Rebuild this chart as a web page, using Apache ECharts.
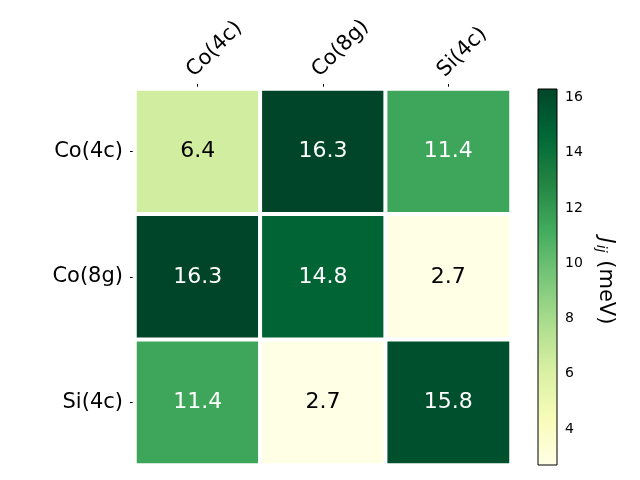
<!DOCTYPE html>
<html>
<head>
<meta charset="utf-8">
<script src="https://cdn.jsdelivr.net/npm/echarts@6/dist/echarts.min.js"></script>
<style>html,body{margin:0;padding:0;background:#fff;}#c{width:640px;height:480px;}</style>
</head>
<body>
<div id="c"></div>
<script>
var sites = ['Co(4c)', 'Co(8g)', 'Si(4c)'];
var jValues = [
  [6.4, 16.3, 11.4],
  [16.3, 14.8, 2.7],
  [11.4, 2.7, 15.8]
];
var cbTicks = [4, 6, 8, 10, 12, 14, 16];
var vMin = 2.7, vMax = 16.3;
var ylgn = ['#ffffe5', '#f7fcb9', '#d9f0a3', '#addd8e', '#78c679', '#41ab5d', '#238443', '#006837', '#004529'];

var FONT = 'DejaVu Sans';
var cells = [];
for (var r = 0; r < sites.length; r++) {
  for (var c = 0; c < sites.length; c++) {
    var v = jValues[r][c];
    cells.push({
      value: [c, r, v],
      label: { color: v > 9.5 ? '#ffffff' : '#000000' }
    });
  }
}

var chart = echarts.init(document.getElementById('c'), null, { renderer: 'canvas' });
chart.setOption({
  animation: false,
  backgroundColor: '#ffffff',
  textStyle: { fontFamily: FONT },
  grid: [
    { left: 135, top: 89, width: 376, height: 376 },
    { left: 538, top: 89, width: 19, height: 376 }
  ],
  xAxis: [
    {
      type: 'category', data: sites, position: 'top', gridIndex: 0,
      axisLine: { show: false },
      axisTick: { show: true, alignWithLabel: true, length: 5, lineStyle: { color: '#000' } },
      axisLabel: { rotate: -45, fontSize: 21, color: '#000', fontFamily: FONT, margin: 8, verticalAlign: 'bottom' },
      splitLine: { show: false }
    },
    {
      type: 'value', gridIndex: 1, min: 0, max: 1, show: false
    }
  ],
  yAxis: [
    {
      type: 'category', data: sites, inverse: true, gridIndex: 0,
      axisLine: { show: false },
      axisTick: { show: true, alignWithLabel: true, length: 5, lineStyle: { color: '#000' } },
      axisLabel: { fontSize: 21, color: '#000', fontFamily: FONT, margin: 12 },
      splitLine: { show: false }
    },
    {
      type: 'value', gridIndex: 1, position: 'right', min: vMin, max: vMax,
      axisLine: { show: false },
      axisTick: { show: true, length: 5, lineStyle: { color: '#000' }, customValues: cbTicks },
      axisLabel: { fontSize: 14, color: '#000', fontFamily: FONT, margin: 8, customValues: cbTicks },
      splitLine: { show: false },
      name: '{j|J}{s|ij} (meV)',
      nameLocation: 'middle',
      nameRotate: -90,
      nameGap: 37,
      nameTextStyle: {
        fontSize: 21, color: '#000', fontFamily: FONT, padding: [0, 0, 0, 8],
        rich: {
          j: { fontSize: 21, fontStyle: 'italic', fontFamily: FONT, color: '#000' },
          s: { fontSize: 14, fontStyle: 'italic', fontFamily: FONT, color: '#000', verticalAlign: 'bottom', padding: [8, 1, 0, 1] }
        }
      }
    }
  ],
  visualMap: {
    show: false, type: 'continuous', min: vMin, max: vMax, seriesIndex: 0, dimension: 2,
    inRange: { color: ylgn }
  },
  series: [
    {
      type: 'heatmap', xAxisIndex: 0, yAxisIndex: 0,
      data: cells,
      itemStyle: { borderColor: '#ffffff', borderWidth: 4 },
      label: { show: true, fontSize: 22, fontFamily: FONT, formatter: function (p) { return p.value[2].toFixed(1); } },
      emphasis: { disabled: true }
    },
    {
      type: 'custom', xAxisIndex: 1, yAxisIndex: 1,
      data: [[0, vMin, 1, vMax]],
      silent: true,
      renderItem: function (params, api) {
        var p0 = api.coord([api.value(0), api.value(3)]);
        var p1 = api.coord([api.value(2), api.value(1)]);
        var stops = ylgn.map(function (col, i) { return { offset: 1 - i / (ylgn.length - 1), color: col }; }).reverse();
        return {
          type: 'rect',
          shape: { x: p0[0], y: p0[1], width: p1[0] - p0[0], height: p1[1] - p0[1] },
          style: {
            fill: new echarts.graphic.LinearGradient(0, 0, 0, 1, stops),
            stroke: '#000', lineWidth: 1
          }
        };
      }
    }
  ]
});
</script>
</body>
</html>
